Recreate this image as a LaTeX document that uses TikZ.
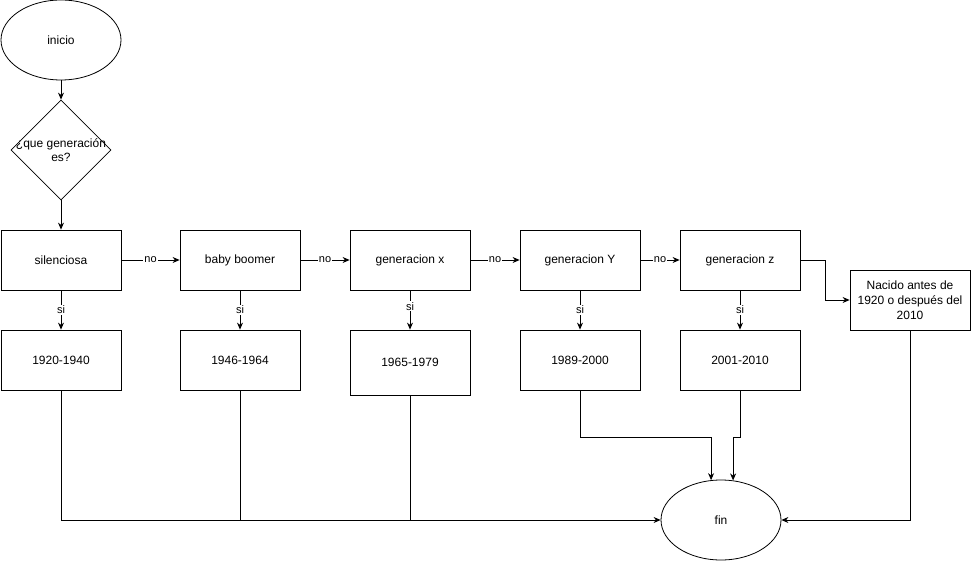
\documentclass[tikz,border=0pt]{standalone}
\usepackage{fontspec}
\setmainfont{Liberation Sans}
\usetikzlibrary{shapes.geometric,arrows.meta}
\begin{document}
\begin{tikzpicture}[
  x=1pt, y=-1pt,
  every node/.style={font=\fontsize{12}{14}\selectfont},
  box/.style={draw, line width=0.8pt, minimum width=120pt, minimum height=60pt, inner sep=0pt, align=center},
  oval/.style={draw, line width=0.8pt, ellipse, minimum width=120pt, minimum height=80pt, inner sep=0pt},
  rombo/.style={draw, line width=0.8pt, diamond, minimum width=100pt, minimum height=100pt, inner sep=0pt},
  arr/.style={line width=0.8pt, -{Stealth[length=7pt,width=6pt]}},
  ln/.style={line width=0.8pt},
  lbl/.style={fill=white, inner sep=1pt, font=\fontsize{11}{12}\selectfont}
]
\useasboundingbox (0,0) rectangle (971,561);

\node[oval] (inicio) at (61,40) {inicio};
\node[rombo, label={[align=center, font=\fontsize{12}{14}\selectfont]center:¿que generación\\es?}] (pregunta) at (61,150) {};

\node[box] (silenciosa) at (61,260) {silenciosa};
\node[box] (boomer) at (240,260) {baby boomer};
\node[box] (genx) at (410,260) {generacion x};
\node[box] (geny) at (580,260) {generacion Y};
\node[box] (genz) at (740,260) {generacion z};
\node[box, font=\fontsize{12}{15}\selectfont] (otro) at (910,300) {Nacido antes de\\1920 o después del\\2010};

\node[box] (a1920) at (61,360) {1920-1940};
\node[box] (a1946) at (240,360) {1946-1964};
\node[box, minimum height=65pt] (a1965) at (410,362.5) {1965-1979};
\node[box] (a1989) at (580,360) {1989-2000};
\node[box] (a2001) at (740,360) {2001-2010};

\node[oval] (fin) at (721,520) {fin};

\draw[arr] (inicio) -- (pregunta);
\draw[arr] (pregunta) -- (silenciosa);

\draw[arr] (silenciosa) -- node[lbl] {no} (boomer);
\draw[arr] (boomer) -- node[lbl] {no} (genx);
\draw[arr] (genx) -- node[lbl] {no} (geny);
\draw[arr] (geny) -- node[lbl] {no} (genz);
\draw[arr] (genz.east) -- ++(25,0) |- (otro.west);

\draw[arr] (silenciosa) -- node[lbl] {si} (a1920);
\draw[arr] (boomer) -- node[lbl] {si} (a1946);
\draw[arr] (genx) -- node[lbl, pos=0.4] {si} (a1965);
\draw[arr] (geny) -- node[lbl] {si} (a1989);
\draw[arr] (genz) -- node[lbl] {si} (a2001);

\draw[arr] (a1920.south) |- (fin.west);
\draw[ln] (a1946.south) -- (a1946.south |- fin.west);
\draw[ln] (a1965.south) -- (a1965.south |- fin.west);
\draw[arr] (a1989.south) -- ++(0,47) -| (fin.104);
\draw[arr] (a2001.south) -- ++(0,47) -| (fin.73);
\draw[arr] (otro.south) |- (fin.east);
\end{tikzpicture}
\end{document}
